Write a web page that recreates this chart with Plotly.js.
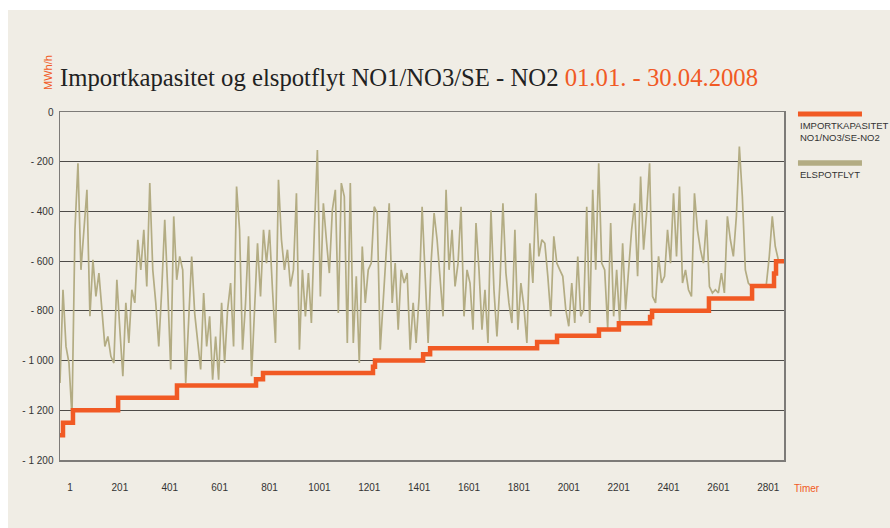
<!DOCTYPE html>
<html>
<head>
<meta charset="utf-8">
<script src="https://cdn.plot.ly/plotly-3.0.1.min.js"></script>
<style>
  html, body { margin: 0; padding: 0; background: #ffffff; width: 890px; height: 528px; overflow: hidden; }
  #chart { position: absolute; left: 8px; top: 10px; width: 882px; height: 518px; }
</style>
</head>
<body>
<div id="chart"></div>
<script>
// ---- Data ----
// Import capacity NO1/NO3/SE -> NO2 (MWh/h), as steps: hour where each level starts
const capStartHour = [1, 13, 53, 234, 470, 787, 815, 1256, 1264, 1457, 1485, 1914, 1994, 2162, 2242, 2367, 2375, 2603, 2776, 2864, 2872];
const capValue = [-1300, -1250, -1200, -1150, -1100, -1075, -1050, -1025, -1000, -975, -950, -925, -900, -875, -850, -825, -800, -750, -700, -650, -600];
const lastHour = 2904;

// Elspot flow (MWh/h), read every 12th hour from hour 1
const flowStep = 12;
const flowValues = [
  -1090,-715,-943,-1010,-1224,-474,-206,-635,-474,-313,-822,-595,-742,-648,-795,-943,-903,-983,-1010,-675,-876,-1063,-768,-929,-715,-768,-514,-635,-474,-702,-286,-635,-768,-943,-715,-434,-715,-1036,-420,-675,-581,
  -635,-1090,-822,-581,-809,-929,-1036,-728,-943,-822,-1077,-903,-1077,-768,-1010,-795,-688,-943,-300,-474,-956,-768,-500,-1063,-822,-528,-742,-474,-608,-474,-715,-929,-273,-514,-635,-554,-702,-635,-327,-956,-635,
  -822,-648,-849,-474,-153,-742,-367,-514,-648,-394,-313,-809,-286,-340,-929,-286,-929,-661,-1010,-541,-768,-635,-608,-381,-407,-956,-768,-581,-367,-768,-608,-876,-635,-688,-648,-956,-768,-929,-742,-381,
  -635,-929,-608,-407,-514,-688,-822,-313,-635,-474,-702,-608,-381,-822,-635,-688,-876,-447,-635,-876,-715,-929,-394,-715,-903,-688,-367,-648,-768,-849,-474,-876,-688,-782,-929,-528,-688,-327,-581,-514,-528,-661,-822,-500,-608,-635,-661,-795,-862,-688,-849,-581,-822,-795,-381,-849,-313,-635,-206,-608,-635,
  -870,-447,-822,-635,-849,-528,-795,-635,-474,-367,-661,-260,-554,-407,-206,-742,-768,-581,-688,-661,-474,-608,-327,-581,-300,-688,-635,-715,-742,-327,-474,-554,-608,-434,-702,-728,-715,-728,-648,-728,-420,-514,-581,-420,-139,-340,-635,-688,-702,-695,-695,-695,-695,-695,-581,-420,-541,-594,-598
];

// Axis ticks
const xTickVals = [1, 201, 401, 601, 801, 1001, 1201, 1401, 1601, 1801, 2001, 2201, 2401, 2601, 2801];
const xTickText = ['1', '201', '401', '601', '801', '1001', '1201', '1401', '1601', '1801', '2001', '2201', '2401', '2601', '2801'];
const yTickVals = [0, -200, -400, -600, -800, -1000, -1200, -1400];
const yTickText = ['0', '- 200', '- 400', '- 600', '- 800', '- 1 000', '- 1 200', '- 1 200'];

// Labels
const titleMain = 'Importkapasitet og elspotflyt NO1/NO3/SE - NO2';
const titlePeriod = '01.01. - 30.04.2008';
const unitLabel = 'MWh/h';
const xUnitLabel = 'Timer';
const seriesNames = ['IMPORTKAPASITET<br>NO1/NO3/SE-NO2', 'ELSPOTFLYT'];

// ---- Build traces ----
const ORANGE = '#f15a24';
const KHAKI = '#b3ac83';
const BG = '#f0ede5';

const capX = capStartHour.concat([lastHour]);
const capY = capValue.concat([capValue[capValue.length - 1]]);
const flowX = flowValues.map((v, i) => 1 + i * flowStep);

const traces = [
  { x: flowX, y: flowValues, type: 'scatter', mode: 'lines', name: 'ELSPOTFLYT',
    line: { color: KHAKI, width: 1.7 }, showlegend: false, hoverinfo: 'skip' },
  { x: capX, y: capY, type: 'scatter', mode: 'lines', name: 'IMPORTKAPASITET',
    line: { color: ORANGE, width: 4.5, shape: 'hv' }, showlegend: false, hoverinfo: 'skip' }
];

const tickFont = { family: 'Liberation Sans, Arial, sans-serif', size: 10, color: '#333333' };

const layout = {
  width: 882, height: 518,
  paper_bgcolor: BG, plot_bgcolor: BG,
  margin: { l: 52, r: 106, t: 102, b: 68 },
  title: {
    text: titleMain + ' <span style="color:' + ORANGE + '">' + titlePeriod + '</span>',
    font: { family: 'Liberation Serif, serif', size: 24.7, color: '#222222' },
    xref: 'paper', x: 0, xanchor: 'left',
    yref: 'container', y: 1 - 67 / 518, yanchor: 'middle'
  },
  xaxis: {
    range: [1, lastHour], tickmode: 'array', tickvals: xTickVals, ticktext: xTickText,
    showgrid: false, zeroline: false, ticks: '', showline: true, mirror: true,
    linecolor: '#7d7b78', linewidth: 1.5, tickfont: tickFont,
    ticklabelstandoff: 17, ticklabelshift: 10
  },
  yaxis: {
    range: [-1400, 0], tickmode: 'array', tickvals: yTickVals, ticktext: yTickText,
    showgrid: true, gridcolor: '#4d4b48', gridwidth: 1.2, zeroline: false,
    ticks: '', showline: true, mirror: true, linecolor: '#7d7b78', linewidth: 1.5,
    tickfont: tickFont, ticklabelstandoff: 3
  },
  shapes: [
    { type: 'line', xref: 'paper', yref: 'paper', x0: 1.0193, x1: 1.1077, y0: 0.9943, y1: 0.9943,
      line: { color: ORANGE, width: 5 } },
    { type: 'line', xref: 'paper', yref: 'paper', x0: 1.0193, x1: 1.1077, y0: 0.8534, y1: 0.8534,
      line: { color: KHAKI, width: 5.5 } }
  ],
  annotations: [
    { text: seriesNames[0], xref: 'paper', yref: 'paper', x: 1.0193, y: 0.984, xanchor: 'left', yanchor: 'top',
      align: 'left', showarrow: false, font: { family: 'Liberation Sans, Arial, sans-serif', size: 9.5, color: '#333333' } },
    { text: seriesNames[1], xref: 'paper', yref: 'paper', x: 1.0193, y: 0.843, xanchor: 'left', yanchor: 'top',
      align: 'left', showarrow: false, font: { family: 'Liberation Sans, Arial, sans-serif', size: 9.5, color: '#333333' } },
    { text: xUnitLabel, xref: 'paper', yref: 'paper', x: 1.0318, y: -0.0805, xanchor: 'center', yanchor: 'middle',
      showarrow: false, font: { family: 'Liberation Sans, Arial, sans-serif', size: 10, color: ORANGE } },
    { text: unitLabel, xref: 'paper', yref: 'paper', x: -0.0166, y: 1.115, xanchor: 'center', yanchor: 'middle',
      textangle: -90, showarrow: false, font: { family: 'Liberation Sans, Arial, sans-serif', size: 11, color: ORANGE } }
  ]
};

Plotly.newPlot('chart', traces, layout, { displayModeBar: false, staticPlot: true });
</script>
</body>
</html>
